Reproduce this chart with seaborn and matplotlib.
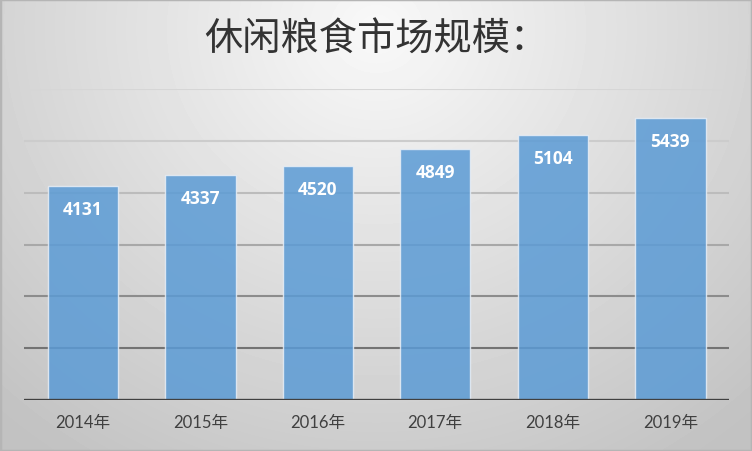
import numpy as np
import matplotlib
matplotlib.use("Agg")
import matplotlib.pyplot as plt
import pandas as pd
import seaborn as sns

# data
years = ["2014年", "2015年", "2016年", "2017年", "2018年", "2019年"]
values = [4131, 4337, 4520, 4849, 5104, 5439]
grid_levels = [1000, 2000, 3000, 4000, 5000, 6000]
title = "休闲粮食市场规模："

df = pd.DataFrame({"year": years, "value": values})

sns.set_theme(style="white")
plt.rcParams["font.family"] = ["Lato", "Noto Sans CJK SC", "DejaVu Sans"]

fig = plt.figure(figsize=(7.52, 4.52), dpi=100)

# radial grey background like the office chart style
bg = fig.add_axes([0, 0, 1, 1], zorder=-1)
yy, xx = np.mgrid[0:452, 0:752]
r = np.sqrt(((xx - 376) / 560.0) ** 2 + ((yy - 30) / 520.0) ** 2)
r = np.clip(r, 0, 1)
light, dark = 0.975, 0.76
img = light + (dark - light) * r
bg.imshow(img, cmap="gray", vmin=0, vmax=1, aspect="auto", extent=[0, 1, 0, 1])
bg.plot([0, 1, 1, 0, 0], [0, 0, 1, 1, 0], color="#b5b5b5", lw=2.5, transform=bg.transAxes)
bg.set_xlim(0, 1)
bg.set_ylim(0, 1)
bg.axis("off")

ax = fig.add_axes([24 / 752, 51 / 452, 705 / 752, 311 / 452])
ax.patch.set_alpha(0)

# gridlines fade lighter toward the top
grid_colors = ["#737373", "#8c8c8c", "#a8a8a8", "#bcbcbc", "#cccccc", "#d6d6d6"]
for lvl, c in zip(grid_levels, grid_colors):
    ax.axhline(lvl, color=c, lw=1.5, zorder=0)

sns.barplot(data=df, x="year", y="value", color="#5b9bd5", width=0.6,
            saturation=1, alpha=0.85, edgecolor="#e8eef6", linewidth=1.0,
            zorder=2, ax=ax)

ax.axhline(0, color="#404040", lw=2.4, zorder=3)

for i, v in enumerate(values):
    ax.annotate(str(v), xy=(i, v), xytext=(0, -23), textcoords="offset pixels",
                ha="center", va="center", color="white", fontsize=12.5,
                fontweight="bold", family=["Open Sans", "DejaVu Sans"], zorder=4)

ax.set_ylim(0, 6000)
ax.set_xlim(-0.5, len(years) - 0.5)
ax.set_yticks([])
ax.set_xlabel("")
ax.set_ylabel("")
ax.tick_params(axis="x", length=0, pad=10, labelsize=12, labelcolor="#404040")
for s in ax.spines.values():
    s.set_visible(False)

fig.text(0.5, 1 - 40 / 452, title, ha="center", va="center", fontsize=27.5,
         color="#333333", family=["Noto Sans CJK SC", "DejaVu Sans"])

fig.savefig("out.png", dpi=100)
